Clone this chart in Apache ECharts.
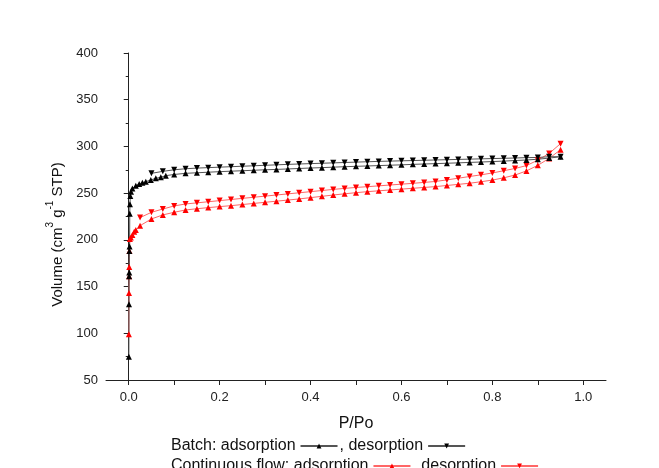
<!DOCTYPE html>
<html>
<head>
<meta charset="utf-8">
<script src="https://cdn.jsdelivr.net/npm/echarts@6/dist/echarts.min.js"></script>
<style>
  html, body { margin: 0; padding: 0; background: #ffffff; }
  #chart { width: 659px; height: 468px; }
</style>
</head>
<body>
<div id="chart"></div>
<script>
// N2 isotherms: relative pressure P/Po vs adsorbed volume (cm3/g STP)

// Batch synthesis, adsorption branch
const batchAds = [
  [0.0003, 75], [0.0006, 131], [0.0009, 161], [0.0012, 165], [0.0015, 188],
  [0.0019, 193], [0.0023, 228], [0.0027, 238], [0.0035, 247], [0.005, 251.5],
  [0.008, 255], [0.0156, 258], [0.023, 259.9], [0.030, 261.2], [0.0376, 262.3],
  [0.0486, 264.1], [0.0596, 265.9], [0.0706, 267], [0.0816, 268.7], [0.1, 270.0],
  [0.125, 271.2], [0.15, 271.8], [0.175, 272.4], [0.2, 273.0], [0.225, 273.5],
  [0.25, 274.0], [0.275, 274.5], [0.3, 275.0], [0.325, 275.4], [0.35, 275.9],
  [0.375, 276.4], [0.4, 276.9], [0.425, 277.3], [0.45, 277.8], [0.475, 278.3],
  [0.5, 278.7], [0.525, 279.1], [0.55, 279.5], [0.575, 279.9], [0.6, 280.3],
  [0.625, 280.8], [0.65, 281.2], [0.675, 281.6], [0.7, 282.0], [0.725, 282.4],
  [0.75, 282.9], [0.775, 283.3], [0.8, 283.8], [0.825, 284.3], [0.85, 284.9],
  [0.875, 285.5], [0.9, 286.3], [0.925, 287.5], [0.95, 289.0]
];

// Batch synthesis, desorption branch
const batchDes = [
  [0.95, 289.0], [0.925, 289.0], [0.9, 288.2], [0.875, 288.0], [0.85, 287.6],
  [0.825, 287.3], [0.8, 287.0], [0.775, 286.7], [0.75, 286.4], [0.725, 286.1],
  [0.7, 285.8], [0.675, 285.5], [0.65, 285.2], [0.625, 284.9], [0.6, 284.6],
  [0.575, 284.3], [0.55, 284.0], [0.525, 283.6], [0.5, 283.2], [0.475, 282.8],
  [0.45, 282.4], [0.425, 282.0], [0.4, 281.6], [0.375, 281.2], [0.35, 280.8],
  [0.325, 280.3], [0.3, 279.8], [0.275, 279.3], [0.25, 278.8], [0.225, 278.3],
  [0.2, 277.8], [0.175, 277.3], [0.15, 276.8], [0.125, 276.1], [0.1, 275.0],
  [0.075, 273.3], [0.05, 271.2]
];

// Continuous-flow synthesis, adsorption branch
const flowAds = [
  [0.0003, 99], [0.0006, 143], [0.0009, 161], [0.0012, 171], [0.0016, 188],
  [0.0025, 201], [0.0046, 202.5], [0.008, 205.2], [0.012, 208.8], [0.0156, 210.6],
  [0.025, 215.2], [0.05, 222.4], [0.075, 226.7], [0.1, 229.5], [0.125, 232.0],
  [0.15, 233.3], [0.175, 234.5], [0.2, 235.6], [0.225, 236.6], [0.25, 237.8],
  [0.275, 239.0], [0.3, 240.2], [0.325, 241.4], [0.35, 242.6], [0.375, 243.8],
  [0.4, 245.2], [0.425, 246.6], [0.45, 248.0], [0.475, 249.3], [0.5, 250.5],
  [0.525, 251.6], [0.55, 252.5], [0.575, 253.4], [0.6, 254.3], [0.625, 255.2],
  [0.65, 256.1], [0.675, 257.0], [0.7, 258.2], [0.725, 259.4], [0.75, 260.6],
  [0.775, 262.2], [0.8, 264.0], [0.825, 266.4], [0.85, 269.4], [0.875, 273.8],
  [0.9, 279.8], [0.925, 287.2], [0.95, 296.5]
];

// Continuous-flow synthesis, desorption branch
const flowDes = [
  [0.95, 303.0], [0.925, 292.5], [0.9, 285.3], [0.875, 279.5], [0.85, 276.4],
  [0.825, 274.0], [0.8, 271.6], [0.775, 269.6], [0.75, 267.8], [0.725, 266.0],
  [0.7, 264.2], [0.675, 262.5], [0.65, 261.5], [0.625, 260.5], [0.6, 259.6],
  [0.575, 258.7], [0.55, 257.8], [0.525, 256.9], [0.5, 256.1], [0.475, 255.1],
  [0.45, 254.0], [0.425, 252.8], [0.4, 251.6], [0.375, 250.4], [0.35, 249.2],
  [0.325, 248.0], [0.3, 246.8], [0.275, 245.6], [0.25, 244.4], [0.225, 243.2],
  [0.2, 242.0], [0.175, 240.8], [0.15, 239.6], [0.125, 238.4], [0.1, 236.3],
  [0.075, 233.0], [0.05, 229.5], [0.025, 223.8]
];

// Axis ticks and labels
const xTickValues = [0, 0.1, 0.2, 0.3, 0.4, 0.5, 0.6, 0.7, 0.8, 0.9, 1.0];
const xLabelValues = [0, 0.2, 0.4, 0.6, 0.8, 1.0];
const yMin = 50, yMax = 400, yStep = 50;

const FONT = 'Liberation Sans, Arial, sans-serif';
const INK = '#222222';

function branch(name, data, markColor, lineColor, down) {
  return {
    name: name,
    type: 'line',
    data: data,
    symbol: 'triangle',
    symbolSize: 6,
    symbolRotate: down ? 180 : 0,
    showSymbol: true,
    smooth: false,
    animation: false,
    itemStyle: { color: markColor, borderWidth: 0 },
    lineStyle: { color: lineColor, width: 1 },
    emphasis: { disabled: true }
  };
}

const legendText = function (name) {
  return name.indexOf('desorption') >= 0 ? ', desorption' : name;
};

const legendBase = {
  orient: 'horizontal',
  left: 166,
  align: 'right',
  itemWidth: 37,
  itemHeight: 6,
  itemGap: 1,
  selectedMode: false,
  formatter: legendText,
  textStyle: { fontFamily: FONT, fontSize: 16, color: '#111', padding: [0, 0, 0, 0] }
};

const chart = echarts.init(document.getElementById('chart'), null, { renderer: 'canvas' });

chart.setOption({
  backgroundColor: '#ffffff',
  animation: false,
  grid: { left: 106, right: 53, top: 53, bottom: 88 },
  legend: [
    Object.assign({}, legendBase, {
      top: 433,
      data: ['Batch: adsorption', 'Batch: desorption']
    }),
    Object.assign({}, legendBase, {
      top: 453,
      data: ['Continuous flow: adsorption', 'Continuous flow: desorption']
    })
  ],
  xAxis: {
    type: 'value',
    min: -0.05,
    max: 1.05,
    name: 'P/Po',
    nameLocation: 'middle',
    nameGap: 36,
    nameTextStyle: { fontFamily: FONT, fontSize: 16, color: '#111' },
    axisLine: { show: true, onZero: false, lineStyle: { color: INK, width: 1 } },
    axisTick: { show: true, inside: false, length: 5, customValues: xTickValues, lineStyle: { color: INK } },
    axisLabel: {
      customValues: xLabelValues,
      fontFamily: FONT, fontSize: 13, color: INK, margin: 11,
      formatter: function (v) { return v.toFixed(1); }
    },
    splitLine: { show: false }
  },
  yAxis: {
    type: 'value',
    min: yMin,
    max: yMax,
    interval: yStep,
    name: '{a|Volume (cm}{s|3}{a| g}{s|-1}{a| STP)}',
    nameLocation: 'middle',
    nameRotate: 90,
    nameGap: 40,
    nameTextStyle: {
      fontFamily: FONT, fontSize: 15, color: '#111',
      padding: [0, 36, 0, 0],
      rich: {
        a: { fontFamily: FONT, fontSize: 15, color: '#111', lineHeight: 20, verticalAlign: 'bottom' },
        s: { fontFamily: FONT, fontSize: 10, color: '#111', lineHeight: 20, verticalAlign: 'top' }
      }
    },
    axisLine: { show: true, lineStyle: { color: INK, width: 1 } },
    axisTick: { show: true, inside: false, length: 5, lineStyle: { color: INK } },
    minorTick: { show: true, splitNumber: 2, length: 3, lineStyle: { color: INK } },
    axisLabel: { fontFamily: FONT, fontSize: 13, color: INK, margin: 8 },
    splitLine: { show: false },
    minorSplitLine: { show: false }
  },
  series: [
    branch('Continuous flow: adsorption', flowAds, '#ff0000', '#ff6666', false),
    branch('Continuous flow: desorption', flowDes, '#ff0000', '#ff6666', true),
    branch('Batch: adsorption', batchAds, '#000000', '#555555', false),
    branch('Batch: desorption', batchDes, '#000000', '#555555', true)
  ]
});
</script>
</body>
</html>
